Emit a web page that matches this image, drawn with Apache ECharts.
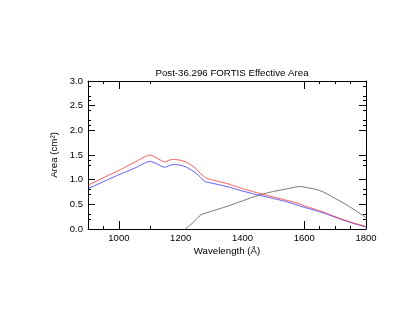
<!DOCTYPE html>
<html>
<head>
<meta charset="utf-8">
<script src="https://cdn.jsdelivr.net/npm/echarts@6/dist/echarts.min.js"></script>
<style>
  html, body { margin: 0; padding: 0; background: #fff; }
  #chart { width: 415px; height: 321px; }
</style>
</head>
<body>
<div id="chart"></div>
<script>
// wavelength grid and curves
const redWave = [900, 950, 1000, 1050, 1100, 1120, 1148, 1165, 1180, 1200, 1220, 1250, 1265, 1280, 1300, 1350, 1400, 1450, 1500, 1550, 1580, 1600, 1650, 1700, 1750, 1800]
const redArea = [0.89, 1.04, 1.19, 1.35, 1.50, 1.45, 1.36, 1.40, 1.41, 1.39, 1.35, 1.22, 1.12, 1.04, 1.00, 0.92, 0.82, 0.73, 0.65, 0.57, 0.52, 0.47, 0.37, 0.25, 0.14, 0.05]
const blueArea = [0.82, 0.96, 1.10, 1.23, 1.37, 1.33, 1.25, 1.29, 1.31, 1.29, 1.25, 1.13, 1.04, 0.96, 0.93, 0.86, 0.77, 0.69, 0.62, 0.54, 0.48, 0.44, 0.35, 0.24, 0.13, 0.04]

const blackWave = [1215, 1240, 1260, 1270, 1300, 1350, 1400, 1450, 1500, 1550, 1585, 1600, 1650, 1700, 1750, 1800]
const blackArea = [0.00, 0.13, 0.26, 0.30, 0.36, 0.46, 0.57, 0.68, 0.76, 0.82, 0.86, 0.85, 0.78, 0.62, 0.44, 0.23]

const xLabels = [1000, 1200, 1400, 1600, 1800]
const xMajorTicks = [1000, 1600]
const xMinorTicks = [950, 1100, 1650, 1700, 1750]
const yLabels = [0, 0.5, 1.0, 1.5, 2.0, 2.5, 3.0]
const yMinorTicks = [0.2, 0.3, 0.7, 0.8, 1.3, 1.4, 2.1, 2.2, 2.4, 2.6, 2.7, 2.9]

const font = 'Liberation Sans, Arial, Helvetica, sans-serif'
const pairs = (xs, ys) => xs.map((x, i) => [x, ys[i]])

const xBase = (pos, show) => ({
  type: 'value', position: pos, min: 900, max: 1800,
  axisLine: { show: show, onZero: false, lineStyle: { color: '#000', width: 1 } },
  splitLine: { show: false },
  axisLabel: { show: false }
})
const yBase = (pos, show) => ({
  type: 'value', position: pos, min: 0, max: 3,
  axisLine: { show: show, onZero: false, lineStyle: { color: '#000', width: 1 } },
  splitLine: { show: false },
  axisLabel: { show: false }
})

let chart = echarts.init(document.getElementById('chart'))

let option = {
  animation: false,
  backgroundColor: '#fff',
  title: {
    text: 'Post-36.296 FORTIS Effective Area',
    left: 227, top: 63, textAlign: 'center',
    textStyle: { fontFamily: font, fontSize: 9.7, fontWeight: 'normal', color: '#000' }
  },
  grid: { left: 88, top: 81, width: 278, height: 148 },
  xAxis: [
    Object.assign(xBase('bottom', true), {
      name: 'Wavelength (Å)', nameLocation: 'middle', nameGap: 17,
      nameTextStyle: { fontFamily: font, fontSize: 9.7, color: '#000' },
      axisLabel: {
        show: true, customValues: xLabels, margin: 4, fontFamily: font, fontSize: 9.5, color: '#000',
        formatter: v => String(v)
      },
      axisTick: { inside: true, length: 8, customValues: xMajorTicks, lineStyle: { color: '#000' } }
    }),
    Object.assign(xBase('bottom', false), {
      axisTick: { inside: true, length: 3, customValues: xMinorTicks, lineStyle: { color: '#000' } }
    }),
    Object.assign(xBase('top', true), {
      axisTick: { inside: true, length: 8, customValues: xMajorTicks, lineStyle: { color: '#000' } }
    }),
    Object.assign(xBase('top', false), {
      axisTick: { inside: true, length: 3, customValues: xMinorTicks, lineStyle: { color: '#000' } }
    })
  ],
  yAxis: [
    Object.assign(yBase('left', true), {
      name: 'Area (cm²)', nameLocation: 'middle', nameGap: 28,
      nameTextStyle: { fontFamily: font, fontSize: 9.7, color: '#000' },
      axisLabel: {
        show: true, customValues: yLabels, margin: 5, fontFamily: font, fontSize: 9.5, color: '#000',
        formatter: v => v.toFixed(1)
      },
      axisTick: { inside: true, length: 7, customValues: yLabels, lineStyle: { color: '#000' } }
    }),
    Object.assign(yBase('left', false), {
      axisTick: { inside: true, length: 3, customValues: yMinorTicks, lineStyle: { color: '#000' } }
    }),
    Object.assign(yBase('right', true), {
      axisTick: { inside: true, length: 7, customValues: yLabels, lineStyle: { color: '#000' } }
    }),
    Object.assign(yBase('right', false), {
      axisTick: { inside: true, length: 3, customValues: yMinorTicks, lineStyle: { color: '#000' } }
    })
  ],
  series: [
    {
      type: 'line', data: pairs(blackWave, blackArea), showSymbol: false, smooth: 0.3,
      lineStyle: { color: '#555', width: 0.8 }
    },
    {
      type: 'line', data: pairs(redWave, blueArea), showSymbol: false, smooth: 0.2,
      lineStyle: { color: '#3333ff', width: 0.8 }
    },
    {
      type: 'line', data: pairs(redWave, redArea), showSymbol: false, smooth: 0.2,
      lineStyle: { color: '#ff3333', width: 0.8 }
    }
  ]
}

chart.setOption(option)
</script>
</body>
</html>
